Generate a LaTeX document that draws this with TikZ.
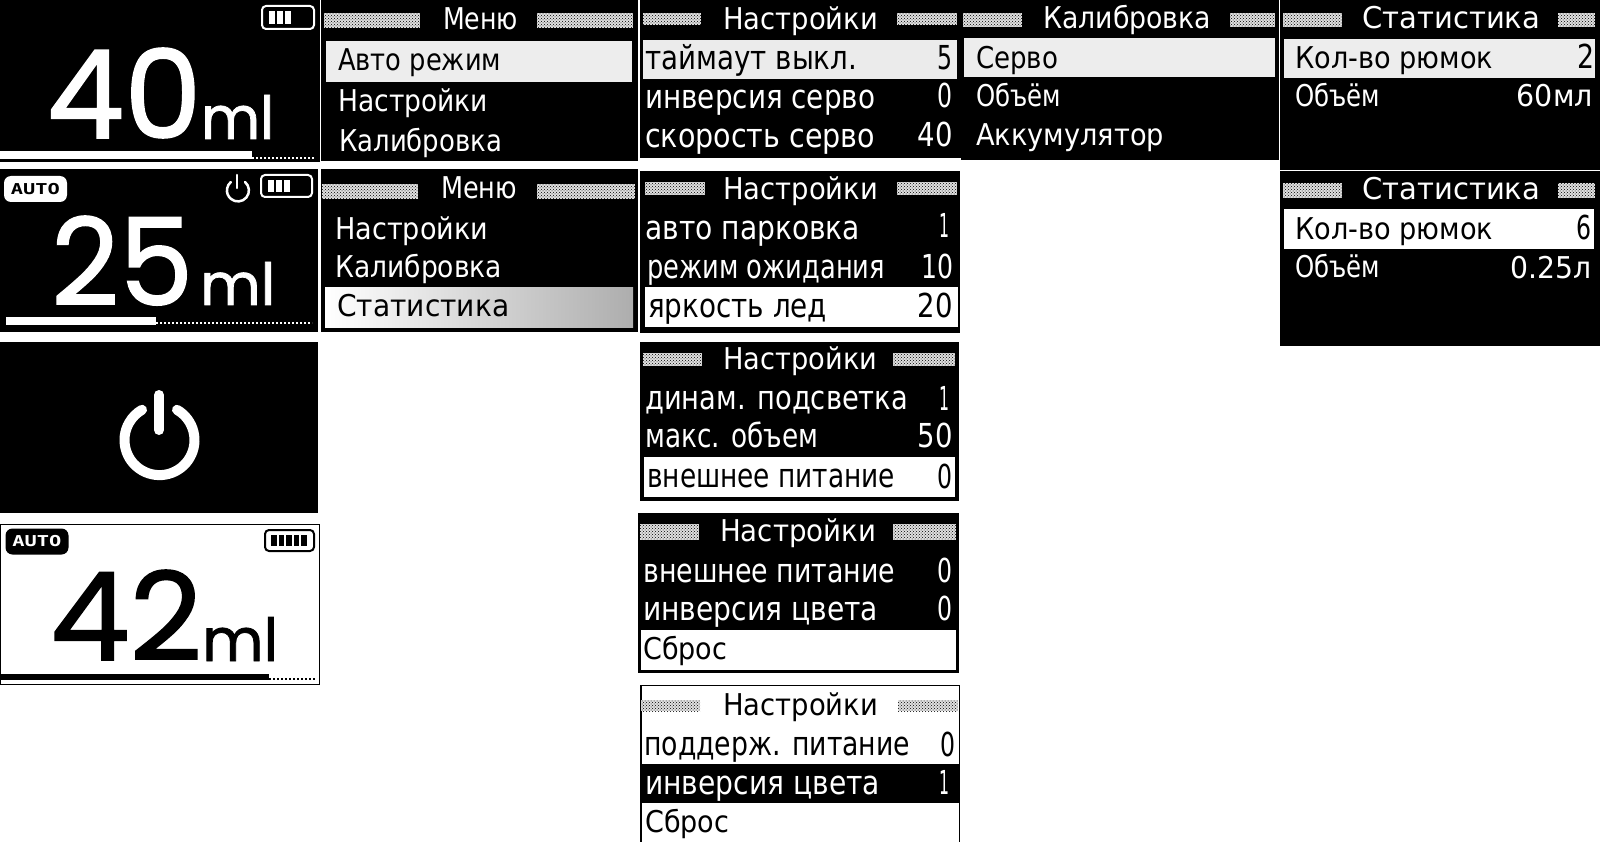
\documentclass[tikz,border=0pt]{standalone}
\usepackage{fontspec}
\usepackage{graphicx}
\usetikzlibrary{patterns}
\setmainfont{DejaVu Sans}
\newfontfamily\digitfont[FakeBold=1.3]{Poppins}
\newfontfamily\badgefont{DejaVu Sans Mono}
\newcommand{\fit}[2]{\resizebox{#1pt}{\height}{#2}}
\newcommand{\fitbox}[3]{\resizebox{#1pt}{#2pt}{#3}}
\newcommand{\battery}[6]{
    \draw[#6,line width=2pt,rounded corners=4pt] (#1,#2) rectangle (#3,#4);
    \foreach \b in {#5} \fill[#6] (\b,#2+5) rectangle (\b+5.5,#4-5);
}
\tikzset{
    menuitem/.style={anchor=base west,inner sep=0pt,text=white,font=\fontsize{30}{30}\selectfont},
    setitem/.style={menuitem,font=\fontsize{33}{33}\selectfont},
    menuval/.style={menuitem,anchor=base east,font=\fontsize{33}{33}\selectfont},
    selected/.style={text=black},
    bigval/.style={anchor=base west,inner sep=0pt,text=white,font=\digitfont\fontsize{130}{130}\selectfont},
    unitval/.style={bigval,font=\digitfont\fontsize{56}{56}\selectfont},
    autobadge/.style={fill=white,text=black,rounded corners=7pt,minimum width=63pt,minimum height=26pt,inner sep=0pt,font=\badgefont\bfseries\fontsize{15}{15}\selectfont},
    hatch/.style={preaction={fill=white!88!black},pattern=crosshatch dots,pattern color=black},
    powerline/.style={white,line cap=round}
}
\begin{document}
\begin{tikzpicture}[x=1pt,y=-1pt]
    \useasboundingbox (0,0) rectangle (1600,842);
    \fill[white] (0,0) rectangle (1600,842);
    % black screens
    \foreach \xa/\ya/\xb/\yb in {0/0/319.5/162.5,320.5/0/638/161,0/169/318/332,320.5/169/638/332,
        640/0/961/158,640/171/960/333,640/342/959/501,638/513/959/673,
        961/0/1279/160,1280/0/1600/170,1280/171.5/1600/346,0/342/318/513}
        \fill[black] (\xa,\ya) rectangle (\xb,\yb);

    % first screen
    \battery{262}{6}{314}{29}{269,277,285}{white}
    \node[bigval] (volA) at (46.5,138) {\fitbox{155}{90}{40}};
    \node[unitval] (unitA) at (201,139) {\fitbox{73}{44}{ml}};
    \fill[white] (0,151) rectangle (252,159);
    \draw[white,line width=2pt,dash pattern=on 2pt off 2pt] (252,158) -- (315,158);

    % auto screen
    \node[autobadge] (autoA) at (35.5,189) {\fit{49}{AUTO}};
    \draw[powerline,line width=2.5pt] (245,182) arc[start angle=50,end angle=-230,radius=11pt];
    \draw[powerline,line width=2.5pt] (237,175) -- (237,188);
    \battery{261}{175}{312}{197}{268,276,284}{white}
    \node[bigval] (volB) at (51,305) {\fitbox{142}{89}{25}};
    \node[unitval] (unitB) at (200,305) {\fitbox{75}{43}{ml}};
    \fill[white] (6,317) rectangle (156,325);
    \draw[white,line width=2pt,dash pattern=on 2pt off 2pt] (156,323) -- (312,323);

    % power screen
    \draw[powerline,line width=10pt] (177,409.8) arc[start angle=60,end angle=-240,radius=35pt];
    \draw[powerline,line width=10pt] (159,395) -- (159,430);

    % inverted screen
    \draw[black,fill=white,line width=1pt] (0.5,524.5) rectangle (319.5,684);
    \node[autobadge,fill=black,text=white] (autoB) at (37,541.5) {\fit{49}{AUTO}};
    \battery{265}{530}{314}{551}{271,278.5,286,293.5,301}{black}
    \node[bigval,text=black] (volC) at (50,660) {\fitbox{152}{90}{42}};
    \node[unitval,text=black] (unitC) at (202,661) {\fitbox{76}{44}{ml}};
    \fill[black] (0,674) rectangle (269,680);
    \draw[black,line width=2pt,dash pattern=on 2pt off 2pt] (269,679) -- (315,679);

    % panel headers
    \foreach \nm/\xa/\xb/\xc/\xd/\ya/\yb/\xt/\wt/\yt/\ttl in {
        a/324/420/537/633/13/28/443/75/30/Меню,
        b/322/418/537/635/184/199/441/76/199/Меню,
        c/643/701/897/957/13/25/723/155/30/Настройки,
        d/645/705/897/957/182/195/723/155/200/Настройки,
        e/643/702/893/955/353/366/723/154/369/Настройки,
        f/640/699/893/956/524/540/720/156/541/Настройки,
        g/963/1022/1230/1275/13/27/1043/168/29/Калибровка,
        h/1283/1342/1558/1595/13/27/1362/178/29/Статистика,
        i/1283/1342/1558/1595/183/198/1362/178/200/Статистика}
    {
        \fill[hatch] (\xa,\ya) rectangle (\xb,\yb);
        \fill[hatch] (\xc,\ya) rectangle (\xd,\yb);
        \node[menuitem] (title\nm) at (\xt,\yt) {\fit{\wt}{\ttl}};
    }

    % menu
    \fill[white!93!black] (326,41) rectangle (632,82);
    \node[menuitem,selected] (menuA) at (338,71) {\fit{163}{Авто режим}};
    \node[menuitem] (menuB) at (338,112) {\fit{150}{Настройки}};
    \node[menuitem] (menuC) at (339,152) {\fit{163}{Калибровка}};
    \node[menuitem] (menuD) at (335,240) {\fit{153}{Настройки}};
    \node[menuitem] (menuE) at (335,278) {\fit{167}{Калибровка}};
    \fill[left color=white,middle color=white!96!black,right color=white!68!black] (325,287) rectangle (633,327);
    \node[menuitem,selected] (menuF) at (337,316) {\fit{172}{Статистика}};

    % settings
    \fill[white!92!black] (643,40) rectangle (957,79);
    \node[setitem,selected] (setA) at (645,70) {\fit{212}{таймаут выкл.}};
    \node[menuval,selected] (valA) at (953,70) {\fit{15}{5}};
    \node[setitem] (setB) at (645,109) {\fit{230}{инверсия серво}};
    \node[menuval] (valB) at (953,108) {\fit{15}{0}};
    \node[setitem] (setC) at (645,148) {\fit{230}{скорость серво}};
    \node[menuval] (valC) at (953,147) {\fit{35}{40}};

    \node[setitem] (setD) at (645,240) {\fit{215}{авто парковка}};
    \node[menuval] (valD) at (950,238) {\fit{10}{1}};
    \node[setitem] (setE) at (647,278) {\fit{238}{режим ожидания}};
    \node[menuval] (valE) at (954,278) {\fit{32}{10}};
    \fill[white] (645,287) rectangle (958,327);
    \node[setitem,selected] (setF) at (648,317) {\fit{179}{яркость лед}};
    \node[menuval,selected] (valF) at (953,317) {\fit{35}{20}};

    \node[setitem] (setG) at (645,409) {\fit{263}{динам. подсветка}};
    \node[menuval] (valG) at (950,410) {\fit{10}{1}};
    \node[setitem] (setH) at (645,447) {\fit{173}{макс. объем}};
    \node[menuval] (valH) at (953,447) {\fit{35}{50}};
    \fill[white] (644,457) rectangle (955,497);
    \node[setitem,selected] (setI) at (647,487) {\fit{248}{внешнее питание}};
    \node[menuval,selected] (valI) at (953,488) {\fit{15}{0}};

    \node[setitem] (setJ) at (643,582) {\fit{252}{внешнее питание}};
    \node[menuval] (valJ) at (953,582) {\fit{15}{0}};
    \node[setitem] (setK) at (643,620) {\fit{235}{инверсия цвета}};
    \node[menuval] (valK) at (953,620) {\fit{15}{0}};
    \fill[white] (641,630) rectangle (956,670);
    \node[menuitem,selected] (setL) at (643,659) {\fit{84}{Сброс}};

    % white settings panel
    \fill[black] (640,685) rectangle (960,842);
    \fill[white] (642,686) rectangle (958.5,842);
    \fill[hatch] (641,700) rectangle (700,711);
    \fill[hatch] (898,700) rectangle (958,711);
    \node[menuitem,selected] (titlej) at (723,715) {\fit{155}{Настройки}};
    \node[setitem,selected] (setM) at (644,755) {\fit{266}{поддерж. питание}};
    \node[menuval,selected] (valM) at (956,756) {\fit{15}{0}};
    \fill[black] (642,764) rectangle (958.5,803);
    \node[setitem] (setN) at (645,794) {\fit{235}{инверсия цвета}};
    \node[menuval] (valN) at (950,794) {\fit{10}{1}};
    \node[menuitem,selected] (setO) at (645,832) {\fit{84}{Сброс}};

    % calibration
    \fill[white!93!black] (964,38) rectangle (1275,77);
    \node[menuitem,selected] (calA) at (976,69) {\fit{82}{Серво}};
    \node[menuitem] (calB) at (976,107) {\fit{85}{Объём}};
    \node[menuitem] (calC) at (976,146) {\fit{188}{Аккумулятор}};

    % statistics
    \fill[white!93!black] (1284,39) rectangle (1595,78);
    \node[menuitem,selected] (statA) at (1295,69) {\fit{198}{Кол-во рюмок}};
    \node[menuval,selected] (valO) at (1595,69) {\fit{17}{2}};
    \node[menuitem] (statB) at (1295,107) {\fit{85}{Объём}};
    \node[menuval,font=\fontsize{30}{30}\selectfont] (valP) at (1593,107) {\fit{76}{60мл}};
    \fill[white] (1284,209) rectangle (1594,249);
    \node[menuitem,selected] (statC) at (1295,240) {\fit{198}{Кол-во рюмок}};
    \node[menuval,selected] (valQ) at (1592,240) {\fit{15}{6}};
    \node[menuitem] (statD) at (1295,278) {\fit{85}{Объём}};
    \node[menuval,font=\fontsize{30}{30}\selectfont] (valR) at (1592,278) {\fit{81}{0.25л}};
\end{tikzpicture}
\end{document}
